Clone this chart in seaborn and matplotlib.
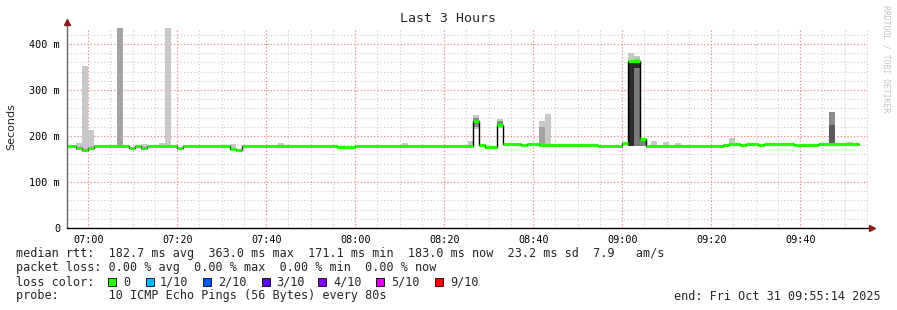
import matplotlib
matplotlib.use("Agg")
import matplotlib.pyplot as plt
from matplotlib.patches import Rectangle
import numpy as np
import pandas as pd
import seaborn as sns

# ---------------- data ----------------
START = "06:55:14"          # left edge of graph
STEP_S = 80                  # probe interval (s)
TITLE = "Last 3 Hours"

# median rtt change points (sample start time, value in ms), steps-post
med_time = ["06:54:34", "06:57:14", "06:58:34", "06:59:54", "07:01:14",
            "07:09:14", "07:10:34", "07:11:54", "07:13:14", "07:19:54",
            "07:21:14", "07:31:54", "07:33:14", "07:34:34", "07:55:54",
            "07:59:54", "08:26:34", "08:27:54", "08:29:14", "08:31:54",
            "08:33:14", "08:37:14", "08:38:34", "08:41:14", "08:54:34",
            "08:59:54", "09:01:14", "09:03:54", "09:05:14", "09:22:34",
            "09:23:54", "09:26:34", "09:27:54", "09:30:34", "09:31:54",
            "09:38:34", "09:43:54", "09:53:14"]
med_val = [178, 174, 170, 174, 178,
           174, 178, 174, 178, 175,
           178, 172, 170, 178, 176,
           178, 232, 180, 176, 224,
           183, 180, 182, 180, 178,
           185, 363, 193, 179, 181,
           183, 181, 183, 181, 183,
           181, 183, None]

# smoke (ping spread) per sample: start time, low, high, shade
smoke_time = ["06:57:14", "06:58:34", "06:59:54", "07:05:14", "07:06:34",
              "07:11:54", "07:15:54", "07:17:14", "07:31:54", "07:42:34",
              "07:53:14", "08:10:34", "08:21:14", "08:25:14",
              "08:26:34", "08:26:34", "08:31:54", "08:31:54",
              "08:41:14", "08:41:14", "08:42:34",
              "09:01:14", "09:01:14", "09:02:34", "09:02:34", "09:02:34", "09:02:34",
              "09:03:54", "09:06:34", "09:09:14", "09:11:54", "09:23:54",
              "09:46:34", "09:46:34", "09:50:34"]
smoke_low = [170, 170, 172, 176, 176,
             176, 176, 176, 172, 176,
             176, 176, 176, 176,
             215, 220, 218, 222,
             183, 183, 183,
             178, 178, 178, 178, 178, 178,
             178, 178, 178, 178, 183,
             183, 183, 183]
smoke_high = [185, 352, 213, 181, 440,
              183, 185, 440, 183, 185,
              180, 185, 180, 189,
              245, 240, 236, 232,
              233, 220, 248,
              380, 363, 374, 370, 363, 348,
              193, 189, 186, 185, 196,
              252, 225, 187]
smoke_shade = ["#c8c8c8", "#c8c8c8", "#c8c8c8", "#c8c8c8", "#a3a3a3",
               "#c8c8c8", "#c8c8c8", "#c8c8c8", "#c8c8c8", "#c8c8c8",
               "#c8c8c8", "#c8c8c8", "#c8c8c8", "#c8c8c8",
               "#c8c8c8", "#8a8a8a", "#c8c8c8", "#8a8a8a",
               "#c8c8c8", "#a3a3a3", "#c8c8c8",
               "#c8c8c8", "#2b2b2b", "#c8c8c8", "#b0b0b0", "#2b2b2b", "#7a7a7a",
               "#808080", "#c8c8c8", "#c8c8c8", "#c8c8c8", "#c8c8c8",
               "#8c8c8c", "#5a5a5a", "#c8c8c8"]

x_ticks = ["07:00", "07:20", "07:40", "08:00", "08:20", "08:40", "09:00", "09:20", "09:40"]
y_ticks = [0, 100, 200, 300, 400]
y_tick_labels = ["0", "100 m", "200 m", "300 m", "400 m"]

legend_lines = [
    "median rtt:  182.7 ms avg  363.0 ms max  171.1 ms min  183.0 ms now  23.2 ms sd  7.9   am/s",
    "packet loss: 0.00 % avg  0.00 % max  0.00 % min  0.00 % now",
    "loss color:",
    "probe:       10 ICMP Echo Pings (56 Bytes) every 80s",
]
loss_labels = ["0", "1/10", "2/10", "3/10", "4/10", "5/10", "9/10"]
loss_colors = ["#26ff00", "#00b8ff", "#0059ff", "#5e00ff", "#7e00ff", "#dd00ff", "#ff0000"]
end_text = "end: Fri Oct 31 09:55:14 2025"


def to_min(s):
    h, m, sec = (int(p) for p in s.split(":"))
    h0, m0, s0 = (int(p) for p in START.split(":"))
    return ((h * 3600 + m * 60 + sec) - (h0 * 3600 + m0 * 60 + s0)) / 60.0


step_min = STEP_S / 60.0

# ---------------- figure ----------------
W, H = 897, 310
sns.set_theme(style="white")
plt.rcParams["font.family"] = ["DejaVu Sans Mono", "DejaVu Sans"]
fig = plt.figure(figsize=(W / 100, H / 100), dpi=100)
fig.patch.set_facecolor("white")
ax = fig.add_axes([67 / W, 82 / H, (868 - 67) / W, (228 - 28) / H])
ax.set_facecolor("white")
ax.set_xlim(0, 180)
ax.set_ylim(0, 435)

# grids
minor_x = np.arange(to_min("07:00:00") - 5, 181, 5)
major_x = [to_min(t + ":00") for t in x_ticks]
for xv in minor_x:
    ax.axvline(xv, color="#cccccc", lw=0.8, ls=(0, (1, 2)), zorder=0)
for yv in np.arange(20, 436, 20):
    ax.axhline(yv, color="#cccccc", lw=0.8, ls=(0, (1, 2)), zorder=0)
for xv in major_x:
    ax.axvline(xv, color="#f08a8a", lw=0.8, ls=(0, (1, 2)), zorder=0.5)
for yv in y_ticks[1:]:
    ax.axhline(yv, color="#f08a8a", lw=0.8, ls=(0, (1, 2)), zorder=0.5)

# smoke
st = np.array([to_min(t) for t in smoke_time])
lo = np.array(smoke_low, float)
hi = np.array(smoke_high, float)
ax.bar(st, hi - lo, bottom=lo, width=step_min, align="edge",
       color=smoke_shade, linewidth=0, zorder=2)

# median: black step line + green loss bands
mt = np.array([to_min(t) for t in med_time])
mv = np.array([np.nan if v is None else v for v in med_val], float)
df = pd.DataFrame({"t": mt[:-1], "v": mv[:-1]})
df = pd.concat([df, pd.DataFrame({"t": [mt[-1]], "v": [mv[-2]]})], ignore_index=True)
sns.lineplot(data=df, x="t", y="v", drawstyle="steps-post", color="black",
             lw=1.0, estimator=None, ax=ax, zorder=3)
ax.hlines(mv[:-1], mt[:-1], mt[1:], colors=loss_colors[0], lw=2.3,
          capstyle="butt", zorder=4)

# axes / ticks
for sp in ax.spines.values():
    sp.set_visible(False)
ax.set_xticks(major_x)
ax.set_xticklabels(x_ticks, fontsize=7.3)
ax.set_yticks(y_ticks)
ax.set_yticklabels(y_tick_labels, fontsize=7.3)
ax.tick_params(axis="both", length=3, width=0.8, color="#777777", pad=2,
               labelcolor="black")
ax.set_xlabel("")
ax.set_ylabel("")
ax.plot([0, 0], [0, 1.03], transform=ax.transAxes, color="#666666", lw=1,
        clip_on=False, zorder=5)
ax.plot([0, 1.005], [0, 0], transform=ax.transAxes, color="black", lw=1,
        clip_on=False, zorder=5)
ax.plot([0], [1.03], transform=ax.transAxes, marker="^", ms=4.5, color="#8b1a1a",
        clip_on=False, zorder=6)
ax.plot([1.005], [0], transform=ax.transAxes, marker=">", ms=4.5, color="#8b1a1a",
        clip_on=False, zorder=6)

# titles
fig.text(448 / W, 1 - 19 / H, TITLE, ha="center", va="center", fontsize=9.5)
fig.text(11 / W, 1 - 127 / H, "Seconds", rotation=90, ha="center", va="center",
         fontsize=8, family=["DejaVu Sans"])
fig.text(886 / W, 1 - 5 / H, "RRDTOOL / TOBI OETIKER", rotation=270, ha="center",
         va="top", fontsize=5.9, color="#c4c4c4")

# legend
ys = [254, 268, 282, 296]
for line, yy in zip(legend_lines, ys):
    fig.text(16 / W, 1 - yy / H, line, ha="left", va="center", fontsize=8.5)
sq_x = [108, 146, 203, 262, 318, 376, 435]
lab_x = [123, 160, 218, 276, 333, 391, 450]
for c, lab, sx, lx in zip(loss_colors, loss_labels, sq_x, lab_x):
    fig.patches.append(Rectangle((sx / W, 1 - 286 / H), 8 / W, 8 / H,
                                 transform=fig.transFigure, facecolor=c,
                                 edgecolor="black", lw=0.6))
    fig.text(lx / W, 1 - 282 / H, lab, ha="left", va="center", fontsize=8.5)
fig.text(881 / W, 1 - 296 / H, end_text, ha="right", va="center", fontsize=8.5)

fig.savefig("out.png", dpi=100, facecolor="white")
